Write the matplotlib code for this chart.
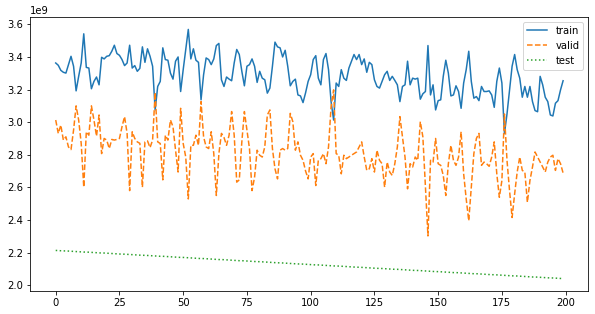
import numpy as np
import matplotlib
matplotlib.use("Agg")
import matplotlib.pyplot as plt

# values, in units of 1e9
train = [3.363, 3.349, 3.318, 3.306, 3.301, 3.353, 3.404, 3.343, 3.192, 3.281,
         3.363, 3.542, 3.336, 3.332, 3.205, 3.250, 3.277, 3.229, 3.398, 3.388,
         3.404, 3.408, 3.435, 3.472, 3.421, 3.410, 3.384, 3.347, 3.363, 3.472,
         3.332, 3.347, 3.312, 3.330, 3.462,
         3.367, 3.450, 3.404, 3.343, 3.075, 3.219, 3.250, 3.456, 3.384, 3.380,
         3.301, 3.264, 3.374, 3.400, 3.188, 3.322, 3.446, 3.569, 3.388, 3.450,
         3.380, 3.367, 3.137, 3.291, 3.394, 3.384, 3.353, 3.388, 3.470, 3.483,
         3.260, 3.219,
         3.277, 3.264, 3.254, 3.363, 3.446, 3.415, 3.312, 3.223, 3.343, 3.353,
         3.388, 3.343, 3.244, 3.312, 3.270, 3.260, 3.178, 3.209, 3.343, 3.491,
         3.462, 3.456, 3.400, 3.441, 3.343, 3.223, 3.250, 3.264, 3.167, 3.161,
         3.120, 3.180, 3.250, 3.291, 3.384,
         3.408, 3.270, 3.229, 3.384, 3.421, 3.322, 3.126, 3.013, 3.240, 3.219,
         3.322, 3.270, 3.256, 3.332, 3.374, 3.415, 3.384, 3.415, 3.353, 3.388,
         3.306, 3.367, 3.353, 3.260, 3.219, 3.209, 3.250, 3.291, 3.312, 3.256,
         3.281, 3.256, 3.229,
         3.126, 3.219, 3.229, 3.374, 3.229, 3.270, 3.264, 3.270, 3.141, 3.174,
         3.188, 3.470, 3.167, 3.229, 3.075, 3.132, 3.137, 3.281, 3.380, 3.301,
         3.161, 3.167, 3.223, 3.188, 3.085, 3.240, 3.322, 3.435, 3.250, 3.147,
         3.157, 3.132, 3.219, 3.188,
         3.188, 3.192, 3.167, 3.091, 3.250, 3.332, 3.240, 2.930, 3.050, 3.198,
         3.343, 3.415, 3.322, 3.270, 3.153, 3.219, 3.153, 3.219, 3.126, 3.071,
         3.064, 3.281, 3.229, 3.153, 3.126, 3.044, 3.038, 3.116, 3.132, 3.198,
         3.254]

valid = [3.013, 2.931, 2.982, 2.890, 2.910, 2.848, 2.832, 2.951, 3.100, 3.013,
         2.869, 2.601, 2.941, 2.920, 3.100, 3.013, 2.914, 3.044, 2.807, 2.900,
         2.890, 2.838, 2.894, 2.890, 2.894, 2.900, 2.972, 3.034, 2.931, 2.580,
         2.941, 2.900, 2.879, 2.870, 2.601,
         2.879, 2.885, 2.844, 2.890, 3.182, 2.879, 2.869, 2.646, 2.920, 2.890,
         3.013, 2.972, 2.828, 2.694, 3.085, 2.869, 2.786, 2.529, 2.858, 2.858,
         2.920, 2.858, 3.126, 2.910, 2.848, 2.838, 2.941, 2.807, 2.550, 2.807,
         2.931, 2.906,
         2.858, 2.920, 3.065, 2.920, 2.632, 2.646, 2.879, 3.065, 2.951, 2.838,
         2.580, 2.663, 2.828, 2.797, 2.786, 2.848, 3.044, 3.075, 2.838, 2.714,
         2.652, 2.828, 2.838, 2.828, 2.838, 3.054, 3.003, 2.828, 2.879, 2.797,
         2.766, 2.700, 2.652, 2.786, 2.807,
         2.611, 2.766, 2.776, 2.807, 2.745, 2.848, 3.095, 3.198, 2.807, 2.797,
         2.683, 2.797, 2.776, 2.786, 2.797, 2.807, 2.817, 2.848, 2.879, 2.786,
         2.704, 2.714, 2.776, 2.694, 2.828, 2.766, 2.745, 2.601, 2.755, 2.694,
         2.673, 2.745, 2.848,
         3.034, 2.910, 2.786, 2.591, 2.745, 2.725, 2.786, 2.766, 3.003, 2.910,
         2.601, 2.302, 2.766, 2.755, 2.900, 2.745, 2.735, 2.673, 2.550, 2.745,
         2.858, 2.766, 2.735, 2.786, 2.941, 2.683, 2.529, 2.395, 2.600, 2.807,
         2.900, 2.931, 2.735, 2.755,
         2.745, 2.729, 2.786, 2.879, 2.683, 2.539, 2.642, 3.050, 2.766, 2.580,
         2.415, 2.560, 2.694, 2.786, 2.704, 2.694, 2.508, 2.642, 2.725, 2.817,
         2.786, 2.755, 2.725, 2.694, 2.755, 2.786, 2.797, 2.704, 2.776, 2.745,
         2.688]

test = [2.213, 2.212, 2.211, 2.210, 2.210, 2.209, 2.208, 2.207, 2.206, 2.205,
        2.204, 2.203, 2.203, 2.202, 2.201, 2.200, 2.199, 2.198, 2.197, 2.197,
        2.196, 2.195, 2.194, 2.193, 2.192, 2.191, 2.190, 2.190, 2.189, 2.188,
        2.187, 2.186, 2.185, 2.184, 2.183, 2.183, 2.182, 2.181, 2.180, 2.179,
        2.178, 2.177, 2.177, 2.176, 2.175, 2.174, 2.173, 2.172, 2.171, 2.170,
        2.170, 2.169, 2.168, 2.167, 2.166, 2.165, 2.164, 2.163, 2.163, 2.162,
        2.161, 2.160, 2.159, 2.158, 2.157, 2.157, 2.156, 2.155, 2.154, 2.153,
        2.152, 2.151, 2.150, 2.150, 2.149, 2.148, 2.147, 2.146, 2.145, 2.144,
        2.144, 2.143, 2.142, 2.141, 2.140, 2.139, 2.138, 2.137, 2.137, 2.136,
        2.135, 2.134, 2.133, 2.132, 2.131, 2.130, 2.130, 2.129, 2.128, 2.127,
        2.126, 2.125, 2.124, 2.124, 2.123, 2.122, 2.121, 2.120, 2.119, 2.118,
        2.117, 2.117, 2.116, 2.115, 2.114, 2.113, 2.112, 2.111, 2.110, 2.110,
        2.109, 2.108, 2.107, 2.106, 2.105, 2.104, 2.103, 2.103, 2.102, 2.101,
        2.100, 2.099, 2.098, 2.097, 2.097, 2.096, 2.095, 2.094, 2.093, 2.092,
        2.091, 2.090, 2.090, 2.089, 2.088, 2.087, 2.086, 2.085, 2.084, 2.083,
        2.083, 2.082, 2.081, 2.080, 2.079, 2.078, 2.077, 2.077, 2.076, 2.075,
        2.074, 2.073, 2.072, 2.071, 2.070, 2.070, 2.069, 2.068, 2.067, 2.066,
        2.065, 2.064, 2.064, 2.063, 2.062, 2.061, 2.060, 2.059, 2.058, 2.057,
        2.057, 2.056, 2.055, 2.054, 2.053, 2.052, 2.051, 2.050, 2.050, 2.049,
        2.048, 2.047, 2.046, 2.045, 2.044, 2.044, 2.043, 2.042, 2.041, 2.040]

fig = plt.figure(figsize=(595 / 72, 314 / 72), dpi=72)
ax = fig.add_axes([0.051, 0.073, 0.938, 0.873])

ax.plot(np.arange(len(train)), np.array(train) * 1e9, "-", label="train")
ax.plot(np.arange(len(valid)), np.array(valid) * 1e9, "--", label="valid")
ax.plot(np.arange(len(test)), np.array(test) * 1e9, ":", label="test")

ax.legend(loc="upper right")

fig.savefig("out.png", dpi=72)
